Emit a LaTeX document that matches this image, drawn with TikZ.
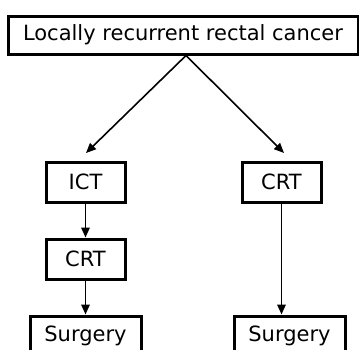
\documentclass[tikz,border=0pt]{standalone}
\usepackage{fontspec}
\setmainfont{DejaVu Sans}
\usetikzlibrary{arrows.meta}

\tikzstyle{stepbox} = [draw,line width=3pt,inner sep=0pt]
\tikzstyle{arr} = [line width=1.6pt,-{Triangle[length=10pt,width=8.5pt]}]

\begin{document}
\begin{tikzpicture}[x=1pt,y=-1pt,font=\fontsize{21}{25}\selectfont]
		\clip (0,0) rectangle (359,349);
		\useasboundingbox (0,0) rectangle (359,349);
		\node[stepbox,minimum width=350pt,minimum height=38pt] (top) at (183,35) {Locally recurrent rectal cancer};
		\node[stepbox,minimum width=79pt,minimum height=40pt] (n1) at (85.5,182) {ICT};
		\node[stepbox,minimum width=79pt,minimum height=40pt] (n2) at (85.5,259) {CRT};
		\node[stepbox,minimum width=111pt,minimum height=40pt] (n3) at (85.5,336) {Surgery};
		\node[stepbox,minimum width=79pt,minimum height=40pt] (n4) at (281.5,182) {CRT};
		\node[stepbox,minimum width=111pt,minimum height=40pt] (n5) at (289.5,336) {Surgery};
		\coordinate (c1) at (86,153);
		\coordinate (c4) at (284,153);
		\draw[arr] ([xshift=3pt]top.south) -- (c1);
		\draw[arr] ([xshift=3pt]top.south) -- (c4);
		\draw[arr] (n1) -- (n2);
		\draw[arr] (n2) -- (n3);
		\draw[arr] (n4.south) -- (n4.south |- n5.north);
		\end{tikzpicture}
\end{document}
